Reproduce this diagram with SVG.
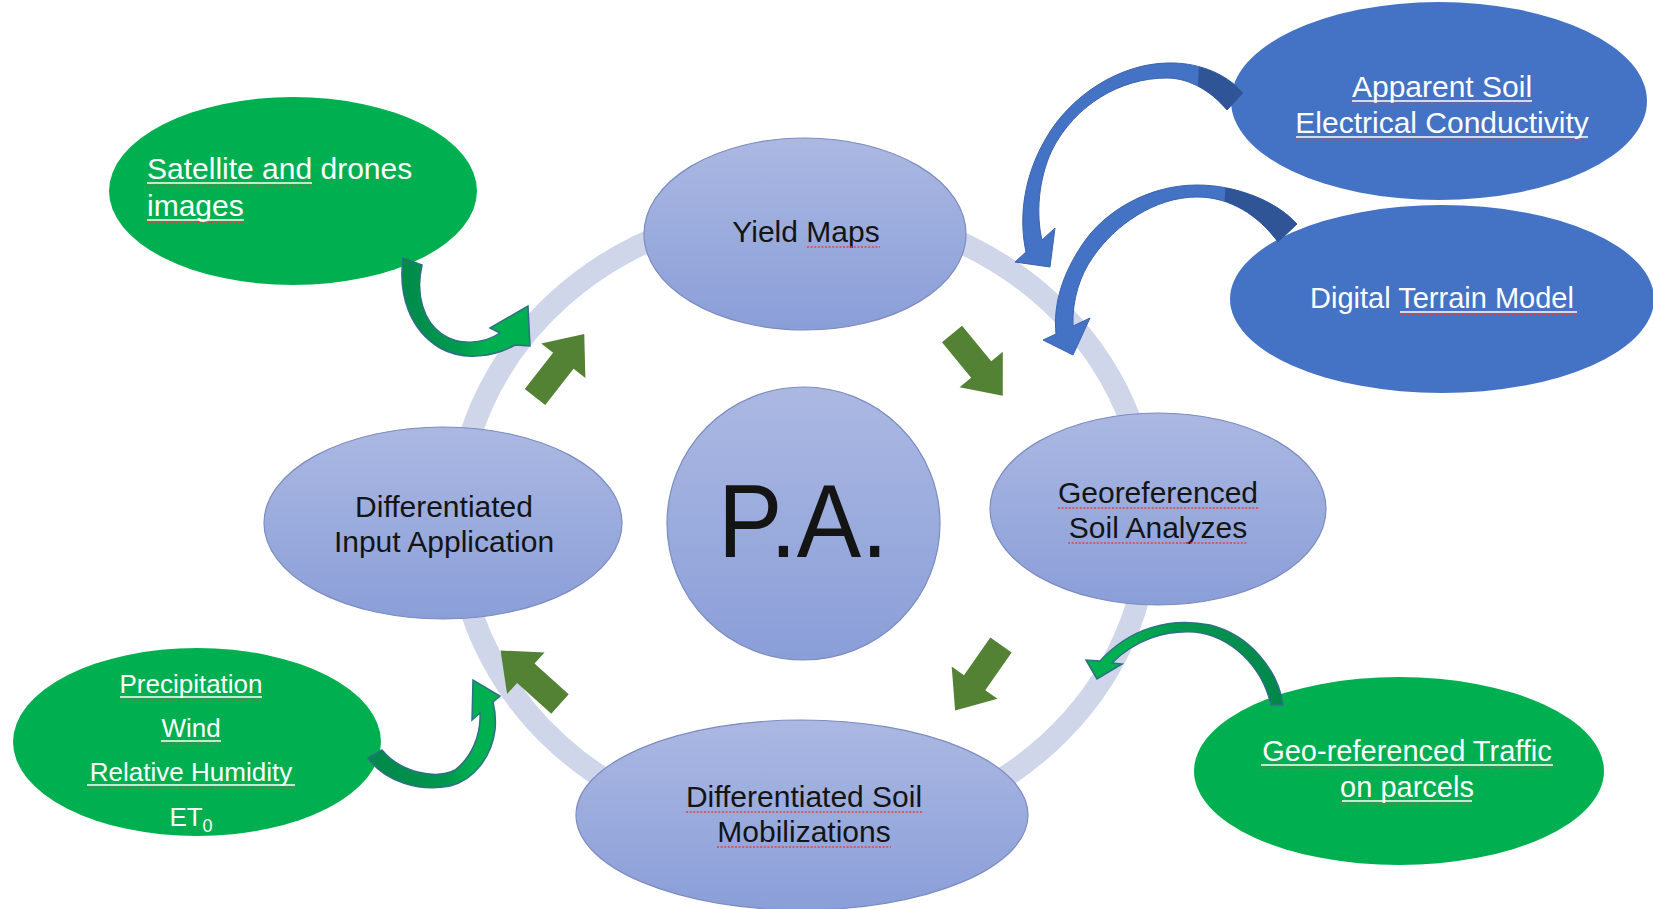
<svg xmlns="http://www.w3.org/2000/svg" xmlns:xlink="http://www.w3.org/1999/xlink" width="1653" height="909" viewBox="0 0 1653 909">
<style>
.node{fill:url(#nodeGrad);stroke:#7d8cc0;stroke-width:1.2}
.green{fill:#00b050}
.blue{fill:#4472c4}
.lbl{font-family:"Liberation Sans",Arial,sans-serif;font-size:30px;fill:#141414;text-anchor:middle}
.w{fill:#ffffff}
.spell{stroke:#e2433f;stroke-width:1.6;stroke-dasharray:2 1.6;fill:none}
.ul{stroke:#ffffff;stroke-width:1.3;fill:none}
.blk{fill:#548235}
.ring{fill:none;stroke:#cfd6ea;stroke-width:22}
.barrow{fill:#4472c4;stroke:#3b63ad;stroke-width:1}
.btail{fill:#2f5597}
.garrow{stroke:#2f6f86;stroke-width:1.5}
</style>
<defs>
<linearGradient id="nodeGrad" x1="0" y1="0" x2="0" y2="1">
<stop offset="0" stop-color="#abb8e2"/>
<stop offset="1" stop-color="#8a9ed8"/>
</linearGradient>
<linearGradient id="gSat" x1="0" y1="0" x2="1" y2="0">
<stop offset="0" stop-color="#008a4a"/>
<stop offset="0.45" stop-color="#009a4e"/>
<stop offset="0.65" stop-color="#00b050"/>
</linearGradient>
<linearGradient id="gWea" x1="0" y1="0" x2="1" y2="0">
<stop offset="0" stop-color="#00874a"/>
<stop offset="0.6" stop-color="#00984d"/>
<stop offset="0.8" stop-color="#00b050"/>
</linearGradient>
<linearGradient id="gTra" x1="1" y1="0" x2="0" y2="0">
<stop offset="0" stop-color="#00874a"/>
<stop offset="0.55" stop-color="#009a4e"/>
<stop offset="0.8" stop-color="#00b050"/>
</linearGradient>
<path id="blockArrow" d="M0,-13 H46 V-28 L80,0 L46,28 V13 H0 Z"/>
<path id="ecShape" d="M1243,93 C1225,72 1195,62 1167,63 C1120,64 1070,95 1045,140 C1025,175 1018,215 1026,252 L1015,262 L1050,267 L1055,228 L1042,240 C1036,215 1038,180 1052,150 C1075,105 1120,78 1167,78 C1190,78 1212,92 1227,110 Z"/>
<path id="dtmShape" d="M1297,224 C1275,200 1235,185 1197,185 C1150,185 1105,210 1082,245 C1062,275 1053,305 1056,334 L1043,340 L1073,355 L1090,318 L1073,326 C1072,300 1080,275 1093,257 C1115,225 1155,197 1197,197 C1230,197 1258,215 1278,242 Z"/>
<clipPath id="ecClip"><use xlink:href="#ecShape" href="#ecShape"/></clipPath>
<clipPath id="dtmClip"><use xlink:href="#dtmShape" href="#dtmShape"/></clipPath>
</defs>

<rect width="1653" height="909" fill="#ffffff"/>

<g id="cycle-ring">
<ellipse class="ring" cx="803" cy="522" rx="346" ry="314"/>
</g>

<g id="n-yield">
<ellipse class="node" cx="805" cy="234" rx="161" ry="96"/>
<text class="lbl" x="806" y="242">Yield Maps</text>
<line class="spell" x1="807" y1="247" x2="880" y2="247"/>
</g>

<g id="n-georef">
<ellipse class="node" cx="1158" cy="509" rx="168" ry="96"/>
<text class="lbl" x="1158" y="503">Georeferenced</text>
<text class="lbl" x="1158" y="538">Soil Analyzes</text>
<line class="spell" x1="1058" y1="508" x2="1258" y2="508"/>
<line class="spell" x1="1068" y1="543" x2="1248" y2="543"/>
</g>

<g id="n-mobil">
<ellipse class="node" cx="802" cy="815" rx="226" ry="95"/>
<text class="lbl" x="804" y="807">Differentiated Soil</text>
<text class="lbl" x="804" y="842">Mobilizations</text>
<line class="spell" x1="686" y1="812" x2="922" y2="812"/>
<line class="spell" x1="717" y1="847" x2="891" y2="847"/>
</g>

<g id="n-input">
<ellipse class="node" cx="443" cy="523" rx="179" ry="96"/>
<text class="lbl" x="444" y="517">Differentiated</text>
<text class="lbl" x="444" y="552">Input Application</text>
</g>

<g id="n-pa">
<circle class="node" cx="803.5" cy="523.5" r="136.5"/>
<text class="lbl" x="803" y="557" style="font-size:103px" textLength="170" lengthAdjust="spacingAndGlyphs">P.A.</text>
</g>

<g id="n-satellite">
<ellipse class="green" cx="293" cy="191" rx="184" ry="94"/>
<text class="lbl w" x="147" y="179" style="text-anchor:start">Satellite and drones</text>
<text class="lbl w" x="147" y="216" style="text-anchor:start">images</text>
<line class="ul" x1="147" y1="183" x2="312" y2="183"/>
<line class="spell" x1="147" y1="185.5" x2="312" y2="185.5"/>
<line class="ul" x1="147" y1="220" x2="244" y2="220"/>
<line class="spell" x1="147" y1="222.5" x2="244" y2="222.5"/>
</g>

<g id="n-weather">
<ellipse class="green" cx="197" cy="742" rx="184" ry="94"/>
<text class="lbl w" x="191" y="693" style="font-size:26px">Precipitation</text>
<text class="lbl w" x="191" y="737" style="font-size:26px">Wind</text>
<text class="lbl w" x="191" y="781" style="font-size:26px">Relative Humidity</text>
<text class="lbl w" x="191" y="826" style="font-size:26px">ET<tspan style="font-size:18px" dy="6">0</tspan></text>
<line class="ul" x1="120" y1="697" x2="262" y2="697"/>
<line class="spell" x1="120" y1="699.5" x2="262" y2="699.5"/>
<line class="ul" x1="161" y1="741" x2="221" y2="741"/>
<line class="spell" x1="161" y1="743.5" x2="221" y2="743.5"/>
<line class="ul" x1="87" y1="785" x2="295" y2="785"/>
<line class="spell" x1="87" y1="787.5" x2="295" y2="787.5"/>
</g>

<g id="n-ec">
<ellipse class="blue" cx="1439" cy="101" rx="208" ry="99"/>
<text class="lbl w" x="1442" y="97">Apparent Soil</text>
<text class="lbl w" x="1442" y="133">Electrical Conductivity</text>
<line class="ul" x1="1352" y1="101" x2="1532" y2="101"/>
<line class="spell" x1="1352" y1="103.5" x2="1532" y2="103.5"/>
<line class="ul" x1="1296" y1="137" x2="1588" y2="137"/>
<line class="spell" x1="1296" y1="139.5" x2="1588" y2="139.5"/>
</g>

<g id="n-dtm">
<ellipse class="blue" cx="1442" cy="299" rx="212" ry="94"/>
<text class="lbl w" x="1442" y="308" style="font-size:29px">Digital Terrain Model</text>
<line class="ul" x1="1400" y1="312" x2="1577" y2="312"/>
<line class="spell" x1="1400" y1="314.5" x2="1577" y2="314.5"/>
</g>

<g id="n-traffic">
<ellipse class="green" cx="1399" cy="771" rx="205" ry="94"/>
<text class="lbl w" x="1407" y="761" style="font-size:29px">Geo-referenced Traffic</text>
<text class="lbl w" x="1407" y="797" style="font-size:29px">on parcels</text>
<line class="ul" x1="1261" y1="765" x2="1553" y2="765"/>
<line class="spell" x1="1261" y1="767.5" x2="1553" y2="767.5"/>
<line class="ul" x1="1342" y1="801" x2="1472" y2="801"/>
<line class="spell" x1="1342" y1="803.5" x2="1472" y2="803.5"/>
</g>

<g id="connectors">
<g id="cycle-arrows" class="blk">
<use xlink:href="#blockArrow" href="#blockArrow" transform="translate(952,334) rotate(50.6)"/>
<use xlink:href="#blockArrow" href="#blockArrow" transform="translate(1001,645) rotate(125)"/>
<use xlink:href="#blockArrow" href="#blockArrow" transform="translate(560,704) rotate(222)"/>
<use xlink:href="#blockArrow" href="#blockArrow" transform="translate(535,397) rotate(-52)"/>
</g>

<g id="arrow-ec">
<use class="barrow" xlink:href="#ecShape" href="#ecShape"/>
<polygon class="btail" clip-path="url(#ecClip)" points="1200,40 1260,40 1260,130 1196,130"/>
</g>

<g id="arrow-dtm">
<use class="barrow" xlink:href="#dtmShape" href="#dtmShape"/>
<polygon class="btail" clip-path="url(#dtmClip)" points="1226,170 1310,170 1310,260 1222,260"/>
</g>

<g id="arrow-satellite">
<path class="garrow" fill="url(#gSat)" d="M403,258 C398,295 410,330 440,348 C465,362 495,356 515,345 L530,346 L528,306 L490,328 L500,333 C482,345 458,345 442,334 C424,322 415,295 422,265 Z"/>
</g>

<g id="arrow-weather">
<path class="garrow" fill="url(#gWea)" d="M368,758 C385,782 420,792 450,786 C475,780 492,755 495,730 C496,720 495,710 493,702 L500,696 L473,680 L472,720 L480,713 C481,735 472,757 455,770 C435,780 400,772 382,750 Z"/>
</g>

<g id="arrow-traffic">
<path class="garrow" fill="url(#gTra)" d="M1283,705 C1278,670 1250,635 1210,625 C1170,617 1130,628 1100,661 L1086,660 L1097,679 L1122,664 L1112,663 C1135,640 1165,630 1195,632 C1230,636 1262,665 1271,705 Z"/>
</g>
</g>
</svg>
